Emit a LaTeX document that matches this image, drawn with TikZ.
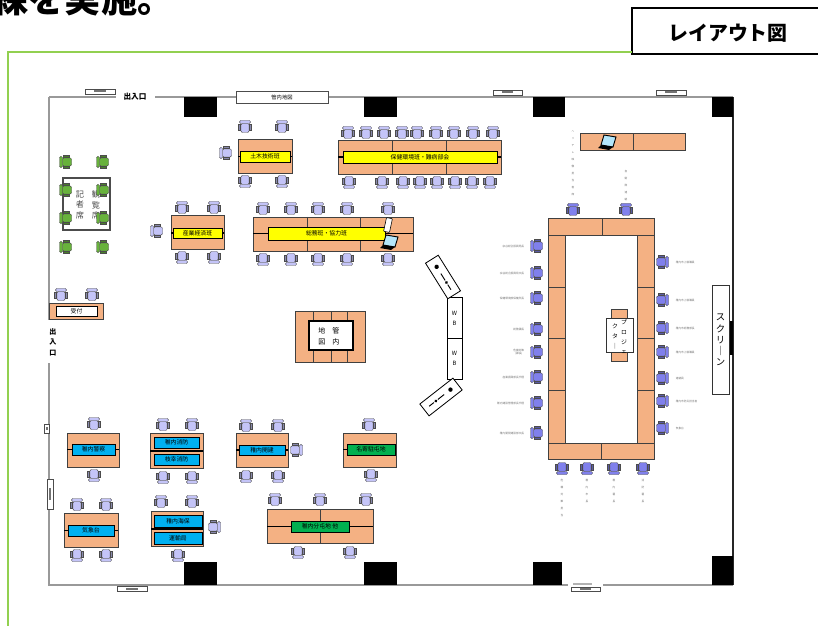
\documentclass[tikz,border=0pt]{standalone}
\usepackage{fontspec}
\setmainfont{Noto Sans CJK JP}
\usetikzlibrary{calc}
\definecolor{deskc}{RGB}{244,177,131}
\definecolor{tagy}{RGB}{255,255,0}
\definecolor{tagb}{RGB}{0,176,240}
\definecolor{tagg}{RGB}{0,176,80}
\definecolor{chairc}{RGB}{196,196,248}
\definecolor{chairu}{RGB}{128,128,236}
\definecolor{chairg}{RGB}{104,178,60}
\definecolor{framec}{RGB}{146,208,80}

\begin{document}
\begin{tikzpicture}[x=0.03cm,y=-0.03cm]
    \newcommand{\seat}[4]{%
      \begin{scope}[shift={(#1,#2)},rotate=#3]
        \filldraw[fill=#4,draw=black!70,line width=0.4pt,rounded corners=1pt] (-4,-3.5) rectangle (4,5.5);
        \filldraw[fill=#4,draw=black!70,line width=0.4pt,rounded corners=1pt] (-5.5,-6.5) rectangle (5.5,-3.5);
        \filldraw[fill=#4!70!black,draw=black!70,line width=0.4pt] (-6.5,-2.5) rectangle (-4.5,3.5);
        \filldraw[fill=#4!70!black,draw=black!70,line width=0.4pt] (4.5,-2.5) rectangle (6.5,3.5);
      \end{scope}}
    \newcommand{\laptop}[2]{%
      \begin{scope}[shift={(#1,#2)}]
        \filldraw[fill=cyan!30,draw=black,line width=0.8pt] (6,-15) -- (18,-13) -- (15,-3) -- (3,-5) -- cycle;
        \fill[black] (3,-5) -- (15,-3) -- (11,0) -- (0,-2) -- cycle;
      \end{scope}}
    \newcommand{\plate}[4]{%
      \draw[black!70,line width=0.5pt,fill=white] (#1,#2) rectangle (#3,#4);
      \fill[black!55] ($(#1,#2)!.3!(#3,#4)$) rectangle ($(#1,#2)!.7!(#3,#4)$);}
    \tikzstyle{desk}=[fill=deskc,draw=black!75,line width=0.7pt]
    \tikzstyle{wall}=[draw=black!40,line width=1.2pt]
    \tikzstyle{pillar}=[fill=black]
    \tikzstyle{mid}=[draw=black,line width=0.9pt]
    \tikzstyle{board}=[draw=black,line width=0.7pt,fill=white]
    \tikzstyle{vert}=[align=center,inner sep=0pt]
    \tikzstyle{tiny}=[font=\fontsize{2.3}{2.8}\selectfont,text=black!55,inner sep=0.5pt]
    \tikzstyle{tinyv}=[font=\fontsize{2.3}{6}\selectfont,text=black!55,inner sep=0pt,align=center,anchor=north]
    \tikzset{tag/.style 2 args={draw=black,line width=0.6pt,inner sep=0pt,
        minimum width=#1*0.03cm,minimum height=#2*0.03cm,font=\fontsize{5}{5}\selectfont}}

    \useasboundingbox (0,0) rectangle (818,626);

    % heading and frame
    \node[anchor=base west,inner sep=0pt,font=\fontsize{31}{31}\selectfont\bfseries] (head) at (-8,12.5) {練を実施。};
    \draw[line width=1.8pt,fill=white] (632,8) rectangle (830,54);
    \node[font=\fontsize{17}{17}\selectfont\bfseries] (title) at (728,33) {レイアウト図};
    \draw[framec,line width=1.7pt] (8,640) -- (8,52) -- (632,52);

    % room
    \draw[wall] (49,97) -- (116,97);
    \draw[wall] (155,97) -- (733,97);
    \draw[wall] (49,97) -- (49,320);
    \draw[wall] (49,363) -- (49,585) -- (568,585);
    \draw[wall] (603,585) -- (733,585);
    \draw[black!30,line width=1pt] (573,584) -- (592,584);
    \draw[black!85,line width=1.4pt] (733,97) -- (733,585);
    \fill[black] (729,321) rectangle (733,355);
    \plate{85}{89}{115}{94}
    \plate{493}{90}{522}{95}
    \plate{656}{90}{686}{95}
    \plate{117}{586}{147}{591}
    \plate{571}{587}{600}{591}
    \plate{44}{424}{49}{433}
    \plate{47}{479}{53}{509}
    \foreach \x/\w in {184/217,364/397,533/565,712/733}
      \fill[pillar] (\x,97) rectangle (\w,117);
    \foreach \x/\w in {184/217,364/397,533/562}
      \fill[pillar] (\x,562) rectangle (\w,585);
    \fill[pillar] (712,556) rectangle (733,585);
    \node[draw=black!70,fill=white,line width=0.6pt,inner sep=0pt,minimum width=92*0.03cm,
      minimum height=12*0.03cm,font=\fontsize{4.5}{5}\selectfont] (wallmap) at (282,97) {管内地図};
    \node[inner sep=0pt,font=\fontsize{6.5}{7}\selectfont\bfseries] (door1) at (135,97) {出入口};
    \node[vert,font=\fontsize{6}{9}\selectfont\bfseries] (door2) at (53,342) {出\\入\\口};
    \draw[black!80,line width=0.8pt,fill=white] (712,285) rectangle (729,394);
    \node[vert,font=\fontsize{8}{9.5}\selectfont] (screen) at (720.5,340) {ス\\ク\\リ\\｜\\ン};

    % press seats
    \draw[black!70,line width=1pt,fill=white] (63,178) rectangle (110,230);
    \node[vert,font=\fontsize{7}{9}\selectfont,text=black!70] (press) at (80,205) {記\\者\\席};
    \node[vert,font=\fontsize{7}{9}\selectfont,text=black!70] (guest) at (96,205) {観\\覧\\席};
    \foreach \y in {162,190,218,247} {
      \seat{66}{\y}{90}{chairg}
      \seat{103}{\y}{90}{chairg}
    }

    % reception
    \draw[desk] (49,303) rectangle (103,319);
    \node[tag={41}{10},fill=white] (recep) at (76.5,311) {受付};
    \seat{61}{295}{0}{chairc}
    \seat{92}{295}{0}{chairc}

    % civil engineering
    \draw[desk] (238,139) rectangle (292,173);
    \draw[mid] (238,156.5) -- (292,156.5);
    \node[tag={50}{11},fill=tagy] (civil) at (265,156.5) {土木技術班};
    \foreach \x in {245,282} {\seat{\x}{127}{0}{chairc} \seat{\x}{181}{180}{chairc}}
    \seat{226}{153}{90}{chairc}

    % health and environment
    \draw[desk] (338,140) rectangle (501,174);
    \draw[black!75,line width=0.7pt] (392,140) -- (392,174) (446,140) -- (446,174);
    \draw[mid] (338,157) -- (501,157);
    \node[tag={154}{12},fill=tagy] (health) at (420,157) {保健環境班・難病部会};
    \foreach \x in {348,366,384,402,417,436,454,473,493} {\seat{\x}{133}{0}{chairc}}
    \foreach \x in {349,382,403,420,437,455,472,490} {\seat{\x}{182}{180}{chairc}}

    % industry
    \draw[desk] (171,215) rectangle (224,249);
    \draw[mid] (171,233) -- (224,233);
    \node[tag={49}{10},fill=tagy] (industry) at (197.5,233) {産業経済班};
    \foreach \x in {182,214} {\seat{\x}{208}{0}{chairc} \seat{\x}{257}{180}{chairc}}
    \seat{157}{231}{90}{chairc}

    % general affairs
    \draw[desk] (253,217) rectangle (413,251);
    \draw[black!75,line width=0.7pt] (307,217) -- (307,251) (360,217) -- (360,251);
    \draw[mid] (253,233.5) -- (413,233.5);
    \node[tag={117}{13},fill=tagy] (affairs) at (326.5,233.5) {総務班・協力班};
    \draw[black,fill=white,line width=0.5pt,rounded corners=0.5pt,rotate around={-12:(388,225)}] (385,218) rectangle (391,232);
    \laptop{380}{250}
    \foreach \x in {263,291,318,347,388} {\seat{\x}{209}{0}{chairc} \seat{\x}{259}{180}{chairc}}

    % map table
    \draw[desk] (295,311) rectangle (365,362);
    \draw[black!75,line width=0.7pt] (313,311) -- (313,362) (331,311) -- (331,362) (347,311) -- (347,362);
    \draw[black,line width=0.9pt,fill=white] (309,321) rectangle (353,350);
    \node[vert,font=\fontsize{6}{9.4}\selectfont] (mapa) at (336,336.5) {管\\内};
    \node[vert,font=\fontsize{6}{9.4}\selectfont] (mapb) at (322,336.5) {地\\図};

    % white boards
    \draw[board] (447,297) rectangle (462,338);
    \draw[board] (447,338) rectangle (462,379);
    \node[vert,font=\fontsize{5}{8.5}\selectfont] (wb1) at (454.5,318) {W\\B};
    \node[vert,font=\fontsize{5}{8.5}\selectfont] (wb2) at (454.5,358.5) {W\\B};
    \begin{scope}[shift={(443,277)},rotate=-58]
      \draw[board] (-21,-7.5) rectangle (21,7.5);
      \fill[black] (-12,0) circle (2.2);
      \draw[line width=0.8pt] (-4,0) -- (4,0) (9,0) -- (15,0);
      \fill[black] (6.5,0) circle (1.6);
    \end{scope}
    \begin{scope}[shift={(441,397)},rotate=38]
      \draw[board] (-21,-7.5) rectangle (21,7.5);
      \fill[black] (12,0) circle (2.2);
      \draw[line width=0.8pt] (-4,0) -- (4,0) (-15,0) -- (-9,0);
      \fill[black] (-6.5,0) circle (1.6);
    \end{scope}

    % top right table
    \draw[desk] (580,133) rectangle (633,150);
    \draw[desk] (633,133) rectangle (685,150);
    \laptop{598}{150}

    % meeting table
    \draw[desk] (548,218) rectangle (602,235);
    \draw[desk] (602,218) rectangle (654,235);
    \foreach \a/\b in {235/287,287/338,338/390,390/443} {
      \draw[desk] (548,\a) rectangle (565,\b);
      \draw[desk] (637,\a) rectangle (654,\b);
    }
    \draw[desk] (548,443) rectangle (601,459);
    \draw[desk] (601,443) rectangle (654,459);
    \draw[desk] (611,309) rectangle (627,361);
    \draw[black!80,line width=0.8pt,fill=white] (606,318) rectangle (633,352);
    \node[vert,font=\fontsize{5}{8.5}\selectfont,anchor=north] (proja) at (624,319) {プ\\ロ\\ジ\\ェ};
    \node[vert,font=\fontsize{5}{8.5}\selectfont,anchor=north] (projb) at (615,324) {ク\\タ\\｜};

    \foreach \x in {573,626} {\seat{\x}{210}{0}{chairu}}
    \foreach \y in {246,273,298,329,352,377,403,433} {\seat{537}{\y}{90}{chairu}}
    \foreach \y in {262,300,328,352,378,401,428} {\seat{662}{\y}{-90}{chairu}}
    \foreach \x in {562,587,614,643} {\seat{\x}{468}{180}{chairu}}

    \node[tiny,anchor=east] (l1) at (525,246) {宗谷総合振興局長};
    \node[tiny,anchor=east] (l2) at (525,273) {宗谷総合振興局次長};
    \node[tiny,anchor=east] (l3) at (525,298) {保健環境部保健所長};
    \node[tiny,anchor=east] (l4) at (525,329) {総務課長};
    \node[tiny,anchor=east,align=center] (l5) at (525,352) {危機対策\\(課長)};
    \node[tiny,anchor=east] (l6) at (525,377) {産業振興部長代理};
    \node[tiny,anchor=east] (l7) at (525,403) {稚内建設管理部長代理};
    \node[tiny,anchor=east] (l8) at (525,433) {稚内開発建設部次長};
    \node[tiny,anchor=west] (r1) at (675,262) {稚内市上級職員};
    \node[tiny,anchor=west] (r2) at (675,300) {稚内市上級職員};
    \node[tiny,anchor=west] (r3) at (675,328) {稚内市総務部長};
    \node[tiny,anchor=west] (r4) at (675,352) {稚内市上級職員};
    \node[tiny,anchor=west] (r5) at (675,378) {連絡員};
    \node[tiny,anchor=west] (r6) at (675,401) {稚内市防災担当者};
    \node[tiny,anchor=west] (r7) at (675,428) {気象台};
    \node[tinyv] (t1) at (573,130) {ヘ\\リ\\テ\\レ\\映\\像\\担\\当\\者\\席};
    \node[tinyv] (t2) at (626,170) {自\\衛\\隊\\連\\絡};
    \node[tinyv] (b1) at (562,479) {危\\機\\対\\策\\担\\当};
    \node[tinyv] (b2) at (587,479) {稚\\内\\市\\長};
    \node[tinyv] (b3) at (614,479) {稚\\内\\署\\長};
    \node[tinyv] (b4) at (643,479) {消\\防\\署\\長};

    % police
    \draw[desk] (67,433) rectangle (119,467);
    \draw[mid] (67,449.5) -- (119,449.5);
    \node[tag={43}{11},fill=tagb] (police) at (93.5,449.5) {稚内警察};
    \seat{94}{424}{0}{chairc}
    \seat{94}{475}{180}{chairc}

    % fire
    \draw[desk] (150,433) rectangle (203,468);
    \draw[mid] (150,451) -- (203,451);
    \node[tag={45}{11},fill=tagb] (fire1) at (176.5,442.5) {稚内消防};
    \node[tag={45}{11},fill=tagb] (fire2) at (176.5,459.5) {枝幸消防};
    \foreach \x in {163,192} {\seat{\x}{425}{0}{chairc} \seat{\x}{477}{180}{chairc}}

    % development bureau
    \draw[desk] (236,433) rectangle (288,467);
    \draw[mid] (236,450) -- (288,450);
    \node[tag={46}{10},fill=tagb] (devel) at (262,450) {稚内開建};
    \foreach \x in {246,278} {\seat{\x}{426}{0}{chairc} \seat{\x}{476}{180}{chairc}}
    \seat{296}{450}{-90}{chairc}

    % nayoro camp
    \draw[desk] (343,433) rectangle (396,467);
    \draw[mid] (343,449.5) -- (396,449.5);
    \node[tag={48}{11},fill=tagg] (nayoro) at (371,449.5) {名寄駐屯地};
    \seat{369}{425}{0}{chairc}
    \seat{371}{475}{180}{chairc}

    % weather
    \draw[desk] (64,513) rectangle (118,547);
    \draw[mid] (64,530.5) -- (118,530.5);
    \node[tag={46}{11},fill=tagb] (weather) at (91,530.5) {気象台};
    \foreach \x in {77,106} {\seat{\x}{505}{0}{chairc} \seat{\x}{555}{180}{chairc}}

    % coast guard and transport
    \draw[desk] (151,511) rectangle (203,546);
    \draw[mid] (151,529) -- (203,529);
    \node[tag={48}{12},fill=tagb] (coast) at (178,521) {稚内海保};
    \node[tag={48}{12},fill=tagb] (transp) at (178,538) {運輸局};
    \foreach \x in {161,192} {\seat{\x}{502}{0}{chairc}}
    \seat{178}{555}{180}{chairc}
    \seat{214}{527}{-90}{chairc}

    % wakkanai camp
    \draw[desk] (267,509) rectangle (373,543);
    \draw[black!75,line width=0.7pt] (320,509) -- (320,543);
    \draw[mid] (267,526.5) -- (373,526.5);
    \node[tag={58}{11},fill=tagg] (wcamp) at (320,526.5) {稚内分屯地\ 他};
    \foreach \x in {275,320,366} {\seat{\x}{500}{0}{chairc}}
    \foreach \x in {298,350} {\seat{\x}{552}{180}{chairc}}
\end{tikzpicture}
\end{document}
